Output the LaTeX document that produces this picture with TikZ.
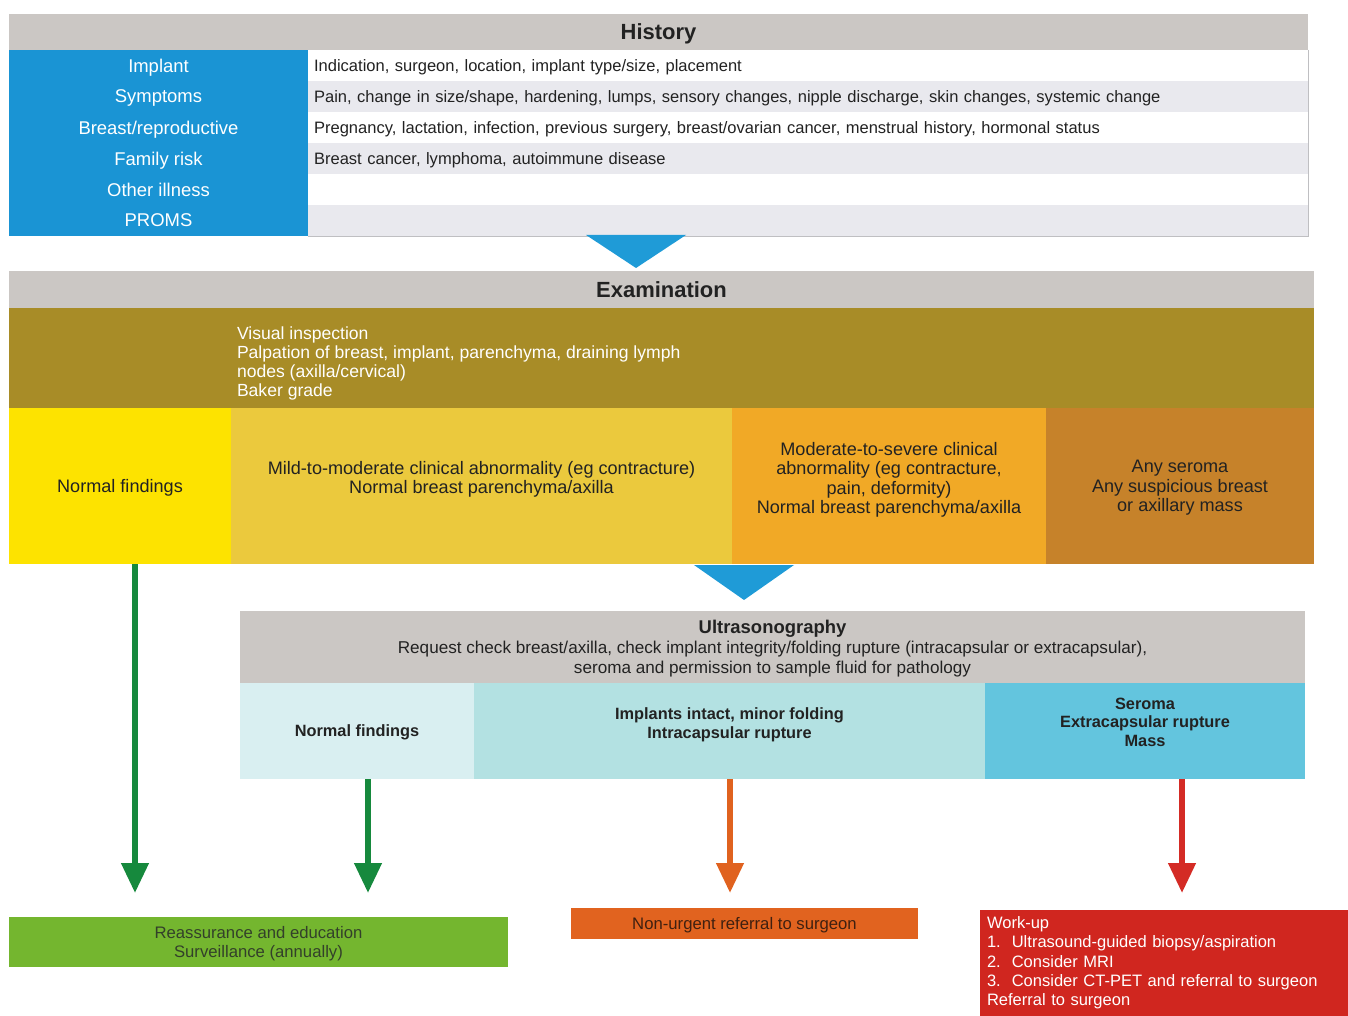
\documentclass[tikz,border=0pt]{standalone}
\usepackage{fontspec}
\setmainfont{Liberation Sans}
\usetikzlibrary{arrows.meta}
\definecolor{headgray}{HTML}{CBC7C4}
\definecolor{rowgray}{HTML}{E9E9EE}
\definecolor{histblue}{HTML}{1A94D4}
\definecolor{triblue}{HTML}{1F9BD7}
\definecolor{olivefill}{HTML}{A88C27}
\definecolor{normfill}{HTML}{FDE300}
\definecolor{mildfill}{HTML}{EBC93D}
\definecolor{modfill}{HTML}{F1A926}
\definecolor{sevfill}{HTML}{C6822A}
\definecolor{uslight}{HTML}{D9EFF1}
\definecolor{usmid}{HTML}{B3E1E2}
\definecolor{usdark}{HTML}{63C5DE}
\definecolor{arrgreen}{HTML}{16893D}
\definecolor{arrorange}{HTML}{E0621F}
\definecolor{arrred}{HTML}{D42B25}
\definecolor{boxgreen}{HTML}{74B62F}
\definecolor{boxorange}{HTML}{E1631F}
\definecolor{boxred}{HTML}{D0261F}
\definecolor{ink}{HTML}{222222}
\definecolor{greenink}{HTML}{33402A}
\definecolor{orangeink}{HTML}{3F2010}
\newcommand{\fsize}[2]{\fontsize{#1}{#2}\selectfont}
\tikzset{
	cell/.style={inner sep=0pt, outer sep=0pt, align=center, text=ink, text depth=0pt, font=\fsize{10.3}{11}},
	sz/.style 2 args={minimum width=#1*0.02cm, minimum height=#2*0.02cm},
	lift/.style={text depth=#1},
	headtitle/.style={font=\fsize{12.5}{14}\bfseries},
	usbox/.style={cell, font=\fsize{9.3}{10.5}\bfseries},
	flow/.style={line width=3.4pt, -{Triangle[width=15pt,length=17pt]}},
}
\begin{document}
\begin{tikzpicture}[x=0.02cm, y=-0.02cm]
	\useasboundingbox (0,0) rectangle (1348,1016);
	\node[cell, sz={1299}{36}, fill=headgray, headtitle] (histhead) at (658.5,32) {History};
	\foreach \lab/\desc/\rowfill [count=\i] in {
		{Implant}/{Indication, surgeon, location, implant type/size, placement}/white,
		{Symptoms}/{Pain, change in size/shape, hardening, lumps, sensory changes, nipple discharge, skin changes, systemic change}/rowgray,
		{Breast/reproductive}/{Pregnancy, lactation, infection, previous surgery, breast/ovarian cancer, menstrual history, hormonal status}/white,
		{Family risk}/{Breast cancer, lymphoma, autoimmune disease}/rowgray,
		{Other illness}/{}/white,
		{PROMS}/{}/rowgray} {
		\node[cell, sz={299}{31}, fill=histblue, text=white, font=\fsize{10.5}{12}] (hl\i) at (158.5, 34.5+31*\i) {\lab};
		\node[cell, sz={1000}{31}, fill=\rowfill, align=left, text width=19.76cm, inner xsep=0.12cm, font=\fsize{9.4}{11}] (hr\i) at (808, 34.5+31*\i) {\desc};
	}
	\draw[rowgray!60!gray, line width=0.4pt] (hr1.north east) -- (hr6.south east) -- (hr6.south west);
	\fill[triblue] (586,235) -- (686,235) -- (636,268) -- cycle;

	\node[cell, sz={1305}{37}, fill=headgray, headtitle] (exhead) at (661.5,289.5) {Examination};
	\node[cell, sz={1305}{100}, fill=olivefill] (exband) at (661.5,358) {};
	\node[cell, anchor=west, align=left, text=white, font=\fsize{10}{10.8}] (exlist) at (237,361.5) {Visual inspection\\Palpation of breast, implant, parenchyma, draining lymph\\nodes (axilla/cervical)\\Baker grade};
	\node[cell, sz={222}{156}, fill=normfill] (exnorm) at (120,486) {Normal findings};
	\node[cell, sz={501}{156}, fill=mildfill, lift=10pt] (exmild) at (481.5,486) {Mild-to-moderate clinical abnormality (eg contracture)\\Normal breast parenchyma/axilla};
	\node[cell, sz={314}{156}, fill=modfill, lift=9pt] (exmod) at (889,486) {Moderate-to-severe clinical\\abnormality (eg contracture,\\pain, deformity)\\Normal breast parenchyma/axilla};
	\node[cell, sz={268}{156}, fill=sevfill] (exsev) at (1180,486) {Any seroma\\Any suspicious breast\\or axillary mass};
	\fill[triblue] (694,565) -- (794,565) -- (744,600) -- cycle;

	\node[cell, sz={1065}{72}, fill=headgray, font=\fsize{9.75}{11.3}] (ushead) at (772.5,647) {{\fsize{10.5}{11.3}\bfseries Ultrasonography}\\Request check breast/axilla, check implant integrity/folding rupture (intracapsular or extracapsular),\\seroma and permission to sample fluid for pathology};
	\node[usbox, sz={234}{96}, fill=uslight] (usnorm) at (357,731) {Normal findings};
	\node[usbox, sz={511}{96}, fill=usmid, lift=9pt] (usint) at (729.5,731) {Implants intact, minor folding\\Intracapsular rupture};
	\node[usbox, sz={320}{96}, fill=usdark, lift=10pt] (usser) at (1145,731) {Seroma\\Extracapsular rupture\\Mass};

	\node[cell, sz={499}{50}, fill=boxgreen, text=greenink, font=\fsize{9.5}{11.3}] (reassure) at (258.5,942) {Reassurance and education\\Surveillance (annually)};
	\node[cell, sz={347}{31}, fill=boxorange, text=orangeink, font=\fsize{9.5}{11}] (referral) at (744.5,923.5) {Non-urgent referral to surgeon};
	\node[cell, sz={368}{106}, fill=boxred, text=white, align=left, text width=7.08cm, inner xsep=0.14cm, text depth=, font=\fsize{9.4}{11}] (workup) at (1164,963) {Work-up\\1.\ \ Ultrasound-guided biopsy/aspiration\\2.\ \ Consider MRI\\3.\ \ Consider CT-PET and referral to surgeon\\Referral to surgeon};

	\coordinate (g1) at (135,893);
	\coordinate (g2) at (368,893);
	\coordinate (o1) at (730,893);
	\coordinate (r1) at (1182,893);
	\draw[flow, arrgreen] (exnorm.south -| g1) -- (g1);
	\draw[flow, arrgreen] (usnorm.south -| g2) -- (g2);
	\draw[flow, arrorange] (usint.south -| o1) -- (o1);
	\draw[flow, arrred] (usser.south -| r1) -- (r1);
\end{tikzpicture}
\end{document}
